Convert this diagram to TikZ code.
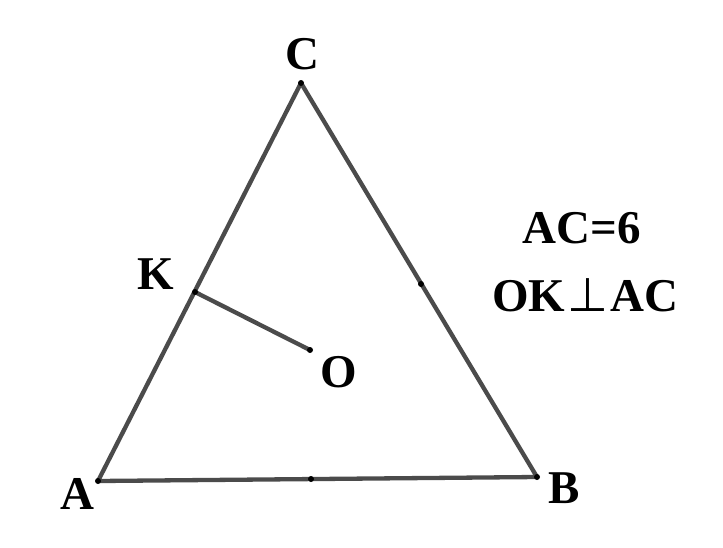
\documentclass[tikz,border=0pt]{standalone}
\usepackage{fontspec}
\setmainfont{Liberation Serif}
\newfontfamily\symfont{DejaVu Sans}
\usetikzlibrary{calc}
\begin{document}
\begin{tikzpicture}[x=1pt,y=-1pt,
  seg/.style={draw={rgb,255:red,75;green,75;blue,75},line width=4.3pt},
  pt/.style={circle,fill=black,inner sep=0pt,minimum size=6pt},
  lbl/.style={font=\fontsize{47}{47}\selectfont\bfseries,inner sep=0pt}]
\useasboundingbox (0,0) rectangle (723,547);
\coordinate (A) at (98,481);
\coordinate (B) at (537,477);
\coordinate (C) at (301,83);
\coordinate (K) at (195,292);
\coordinate (O) at (310,350);
\draw[seg,line join=round] (A) -- (B) -- (C) -- cycle;
\draw[seg] (K) -- (O);
\node[pt] (pA) at (A) {};
\node[pt] (pB) at (B) {};
\node[pt] (pC) at (C) {};
\node[pt] (pK) at (K) {};
\node[pt] (pO) at (O) {};
\node[pt] (mAB) at (311,479) {};
\node[pt] (mBC) at (421,284) {};
\node[lbl] (lC) at (302,54) {C};
\node[lbl] (lK) at (156,274) {K};
\node[lbl] (lO) at (339,372) {O};
\node[lbl] (lA) at (77,494) {A};
\node[lbl] (lB) at (564,488) {B};
\node[lbl] (t1) at (582,228) {AC=6};
\node[lbl] (t2) at (585,295) {OK\kern2pt{\symfont\mdseries ⊥}\kern2pt AC};
\end{tikzpicture}
\end{document}
